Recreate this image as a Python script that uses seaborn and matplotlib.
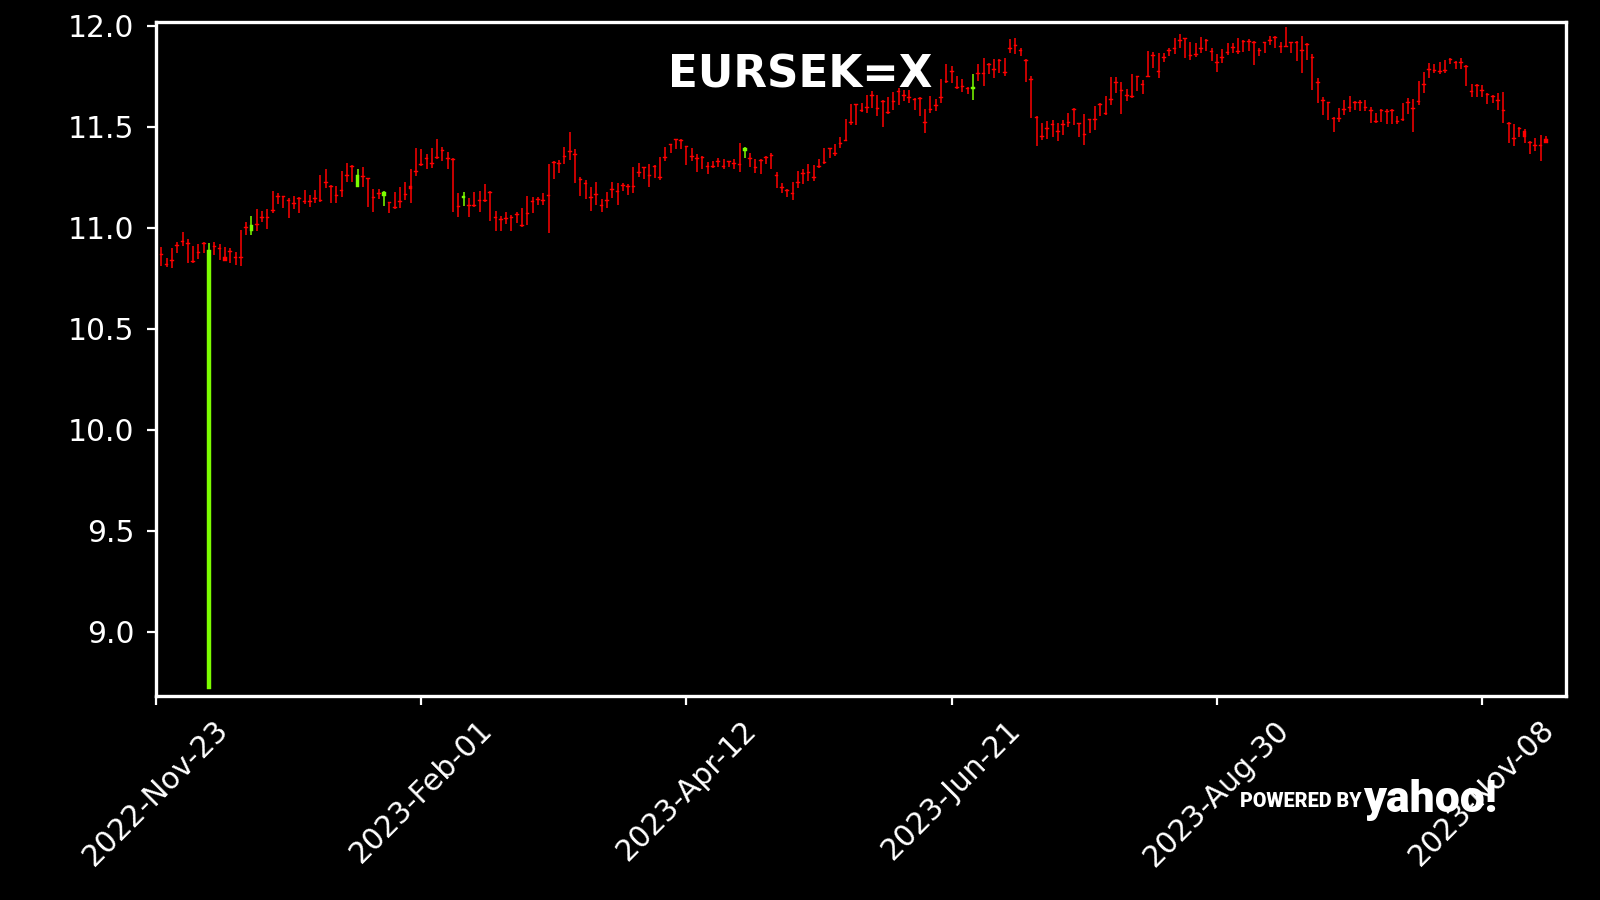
import numpy as np
import matplotlib
matplotlib.use("Agg")
import matplotlib.pyplot as plt
import seaborn as sns

TICKER = "EURSEK=X"
TICK_POS = [0, 50, 100, 150, 200, 250]
TICK_LABELS = ["2022-Nov-23", "2023-Feb-01", "2023-Apr-12",
               "2023-Jun-21", "2023-Aug-30", "2023-Nov-08"]

OPEN = [
    10.870, 10.821, 10.840, 10.915, 10.936, 10.925, 10.837, 10.878, 10.925, 8.716,
    10.911, 10.900, 10.857, 10.883, 10.857, 10.857, 11.002, 10.981, 11.019, 11.052,
    11.052, 11.088, 11.156, 11.156, 11.137, 11.123, 11.149, 11.134, 11.134, 11.146,
    11.139, 11.228, 11.205, 11.162, 11.187, 11.261, 11.304, 11.203, 11.255, 11.245,
    11.151, 11.171, 11.157, 11.125, 11.101, 11.130, 11.167, 11.206, 11.282, 11.315,
    11.345, 11.318, 11.348, 11.386, 11.343, 11.340, 11.106, 11.148, 11.112, 11.114,
    11.137, 11.137, 11.178, 11.051, 11.043, 11.048, 11.055, 11.068, 11.013, 11.071,
    11.134, 11.142, 11.137, 11.162, 11.324, 11.319, 11.353, 11.378, 11.365, 11.241,
    11.220, 11.150, 11.167, 11.112, 11.137, 11.192, 11.180, 11.211, 11.205, 11.205,
    11.274, 11.299, 11.261, 11.307, 11.249, 11.348, 11.414, 11.439, 11.436, 11.403,
    11.357, 11.343, 11.352, 11.307, 11.307, 11.332, 11.304, 11.328, 11.319, 11.315,
    11.381, 11.345, 11.299, 11.335, 11.352, 11.361, 11.261, 11.203, 11.187, 11.170,
    11.228, 11.271, 11.274, 11.249, 11.307, 11.327, 11.393, 11.368, 11.418, 11.436,
    11.521, 11.612, 11.584, 11.596, 11.657, 11.591, 11.629, 11.571, 11.629, 11.678,
    11.657, 11.645, 11.637, 11.642, 11.525, 11.588, 11.607, 11.645, 11.728, 11.777,
    11.698, 11.703, 11.691, 11.686, 11.764, 11.764, 11.810, 11.786, 11.832, 11.772,
    11.888, 11.904, 11.881, 11.832, 11.736, 11.546, 11.455, 11.492, 11.513, 11.480,
    11.513, 11.521, 11.588, 11.517, 11.464, 11.538, 11.538, 11.612, 11.566, 11.637,
    11.720, 11.682, 11.657, 11.654, 11.749, 11.711, 11.753, 11.855, 11.777, 11.843,
    11.881, 11.888, 11.929, 11.937, 11.855, 11.860, 11.888, 11.931, 11.873, 11.822,
    11.843, 11.868, 11.893, 11.873, 11.926, 11.926, 11.921, 11.880, 11.918, 11.931,
    11.942, 11.898, 11.901, 11.918, 11.921, 11.880, 11.909, 11.843, 11.723, 11.632,
    11.621, 11.541, 11.541, 11.588, 11.596, 11.621, 11.621, 11.596, 11.583, 11.526,
    11.584, 11.576, 11.583, 11.526, 11.538, 11.621, 11.592, 11.625, 11.711, 11.786,
    11.781, 11.777, 11.782, 11.835, 11.822, 11.819, 11.802, 11.675, 11.706, 11.682,
    11.662, 11.650, 11.632, 11.584, 11.518, 11.442, 11.492, 11.480, 11.426, 11.409,
    11.409, 11.437,
]
HIGH = [
    10.906, 10.852, 10.898, 10.931, 10.977, 10.943, 10.911, 10.920, 10.931, 10.926,
    10.931, 10.920, 10.906, 10.898, 10.877, 10.989, 11.030, 11.058, 11.091, 11.083,
    11.091, 11.182, 11.170, 11.157, 11.149, 11.157, 11.154, 11.187, 11.162, 11.187,
    11.260, 11.289, 11.212, 11.207, 11.281, 11.319, 11.311, 11.289, 11.302, 11.245,
    11.190, 11.190, 11.179, 11.129, 11.178, 11.203, 11.228, 11.290, 11.396, 11.388,
    11.363, 11.393, 11.437, 11.401, 11.376, 11.343, 11.170, 11.178, 11.145, 11.175,
    11.182, 11.215, 11.180, 11.084, 11.059, 11.079, 11.063, 11.079, 11.096, 11.158,
    11.154, 11.150, 11.170, 11.314, 11.332, 11.335, 11.401, 11.475, 11.388, 11.249,
    11.236, 11.200, 11.224, 11.142, 11.175, 11.228, 11.223, 11.223, 11.216, 11.299,
    11.322, 11.302, 11.314, 11.310, 11.352, 11.398, 11.416, 11.441, 11.437, 11.404,
    11.393, 11.363, 11.355, 11.323, 11.330, 11.347, 11.338, 11.330, 11.338, 11.421,
    11.401, 11.368, 11.338, 11.338, 11.355, 11.368, 11.274, 11.219, 11.190, 11.224,
    11.280, 11.289, 11.314, 11.310, 11.338, 11.396, 11.396, 11.413, 11.450, 11.536,
    11.611, 11.614, 11.616, 11.657, 11.678, 11.657, 11.632, 11.649, 11.673, 11.690,
    11.682, 11.682, 11.642, 11.649, 11.586, 11.652, 11.635, 11.734, 11.809, 11.800,
    11.752, 11.736, 11.695, 11.759, 11.809, 11.842, 11.817, 11.833, 11.834, 11.842,
    11.934, 11.941, 11.888, 11.836, 11.751, 11.554, 11.516, 11.530, 11.533, 11.520,
    11.533, 11.569, 11.591, 11.519, 11.561, 11.540, 11.602, 11.616, 11.652, 11.748,
    11.748, 11.723, 11.685, 11.759, 11.751, 11.731, 11.876, 11.871, 11.863, 11.866,
    11.888, 11.941, 11.957, 11.941, 11.921, 11.916, 11.946, 11.934, 11.891, 11.858,
    11.884, 11.916, 11.913, 11.937, 11.929, 11.932, 11.924, 11.891, 11.920, 11.950,
    11.950, 11.921, 11.992, 11.920, 11.926, 11.950, 11.912, 11.858, 11.743, 11.649,
    11.624, 11.550, 11.591, 11.632, 11.652, 11.627, 11.632, 11.632, 11.599, 11.569,
    11.586, 11.586, 11.586, 11.553, 11.616, 11.644, 11.637, 11.726, 11.769, 11.817,
    11.809, 11.822, 11.830, 11.838, 11.825, 11.838, 11.804, 11.710, 11.710, 11.706,
    11.665, 11.657, 11.665, 11.673, 11.525, 11.513, 11.497, 11.487, 11.428, 11.442,
    11.459, 11.455,
]
LOW = [
    10.811, 10.804, 10.799, 10.873, 10.910, 10.827, 10.827, 10.845, 10.873, 8.716,
    10.865, 10.840, 10.837, 10.824, 10.816, 10.812, 10.964, 10.964, 10.981, 11.030,
    10.994, 11.071, 11.116, 11.096, 11.047, 11.091, 11.071, 11.118, 11.101, 11.124,
    11.129, 11.195, 11.124, 11.124, 11.154, 11.228, 11.228, 11.203, 11.203, 11.101,
    11.075, 11.141, 11.108, 11.071, 11.092, 11.096, 11.137, 11.120, 11.256, 11.307,
    11.289, 11.294, 11.340, 11.332, 11.289, 11.079, 11.054, 11.109, 11.054, 11.104,
    11.079, 11.129, 11.033, 10.984, 10.984, 11.017, 10.984, 11.021, 11.002, 11.013,
    11.071, 11.112, 11.112, 10.972, 11.241, 11.272, 11.315, 11.335, 11.223, 11.157,
    11.142, 11.083, 11.112, 11.079, 11.099, 11.145, 11.112, 11.182, 11.162, 11.173,
    11.249, 11.239, 11.200, 11.244, 11.236, 11.330, 11.368, 11.388, 11.388, 11.310,
    11.330, 11.274, 11.289, 11.266, 11.294, 11.302, 11.290, 11.299, 11.289, 11.277,
    11.343, 11.299, 11.269, 11.266, 11.314, 11.289, 11.195, 11.170, 11.153, 11.137,
    11.195, 11.216, 11.231, 11.233, 11.294, 11.314, 11.343, 11.356, 11.396, 11.429,
    11.508, 11.508, 11.574, 11.566, 11.591, 11.553, 11.500, 11.561, 11.583, 11.607,
    11.627, 11.616, 11.583, 11.553, 11.470, 11.566, 11.579, 11.619, 11.715, 11.715,
    11.685, 11.673, 11.662, 11.632, 11.726, 11.701, 11.759, 11.739, 11.764, 11.751,
    11.863, 11.858, 11.850, 11.719, 11.541, 11.404, 11.434, 11.437, 11.450, 11.431,
    11.459, 11.497, 11.508, 11.447, 11.409, 11.470, 11.483, 11.553, 11.558, 11.607,
    11.668, 11.563, 11.627, 11.640, 11.677, 11.662, 11.744, 11.792, 11.743, 11.822,
    11.850, 11.860, 11.891, 11.842, 11.830, 11.847, 11.866, 11.875, 11.825, 11.772,
    11.814, 11.855, 11.863, 11.860, 11.871, 11.875, 11.805, 11.850, 11.863, 11.904,
    11.888, 11.863, 11.894, 11.863, 11.825, 11.767, 11.830, 11.682, 11.616, 11.558,
    11.533, 11.475, 11.525, 11.558, 11.574, 11.583, 11.578, 11.578, 11.516, 11.516,
    11.525, 11.512, 11.513, 11.513, 11.530, 11.563, 11.472, 11.607, 11.668, 11.739,
    11.764, 11.761, 11.767, 11.809, 11.784, 11.784, 11.701, 11.649, 11.649, 11.649,
    11.611, 11.616, 11.583, 11.516, 11.417, 11.404, 11.447, 11.421, 11.363, 11.380,
    11.330, 11.421,
]
CLOSE = [
    10.865, 10.816, 10.835, 10.910, 10.931, 10.920, 10.832, 10.873, 10.920, 10.890,
    10.906, 10.895, 10.837, 10.878, 10.852, 10.852, 10.997, 11.014, 11.014, 11.047,
    11.047, 11.083, 11.151, 11.151, 11.132, 11.118, 11.144, 11.129, 11.129, 11.141,
    11.134, 11.223, 11.200, 11.157, 11.182, 11.256, 11.299, 11.261, 11.250, 11.240,
    11.146, 11.166, 11.174, 11.120, 11.096, 11.125, 11.162, 11.191, 11.277, 11.310,
    11.340, 11.313, 11.343, 11.381, 11.338, 11.335, 11.101, 11.158, 11.107, 11.109,
    11.132, 11.132, 11.173, 11.046, 11.038, 11.043, 11.050, 11.063, 11.008, 11.066,
    11.129, 11.137, 11.132, 11.157, 11.319, 11.314, 11.348, 11.373, 11.360, 11.236,
    11.215, 11.145, 11.162, 11.107, 11.132, 11.187, 11.175, 11.206, 11.200, 11.200,
    11.269, 11.294, 11.256, 11.302, 11.244, 11.343, 11.409, 11.434, 11.431, 11.398,
    11.352, 11.338, 11.347, 11.302, 11.302, 11.327, 11.299, 11.323, 11.314, 11.310,
    11.393, 11.340, 11.294, 11.330, 11.347, 11.356, 11.256, 11.198, 11.182, 11.165,
    11.223, 11.266, 11.269, 11.244, 11.302, 11.322, 11.388, 11.363, 11.413, 11.431,
    11.516, 11.607, 11.579, 11.591, 11.652, 11.586, 11.624, 11.566, 11.624, 11.673,
    11.652, 11.640, 11.632, 11.637, 11.520, 11.583, 11.602, 11.640, 11.723, 11.772,
    11.693, 11.698, 11.686, 11.698, 11.759, 11.759, 11.805, 11.781, 11.827, 11.767,
    11.883, 11.899, 11.876, 11.827, 11.731, 11.541, 11.450, 11.487, 11.508, 11.475,
    11.508, 11.516, 11.583, 11.512, 11.459, 11.533, 11.533, 11.607, 11.561, 11.632,
    11.715, 11.677, 11.652, 11.649, 11.744, 11.706, 11.748, 11.850, 11.772, 11.838,
    11.876, 11.883, 11.924, 11.932, 11.850, 11.855, 11.883, 11.926, 11.868, 11.817,
    11.838, 11.863, 11.888, 11.868, 11.921, 11.921, 11.916, 11.875, 11.913, 11.926,
    11.937, 11.893, 11.896, 11.913, 11.916, 11.875, 11.904, 11.838, 11.718, 11.627,
    11.616, 11.536, 11.536, 11.583, 11.591, 11.616, 11.616, 11.591, 11.578, 11.521,
    11.579, 11.571, 11.578, 11.521, 11.533, 11.616, 11.587, 11.620, 11.706, 11.781,
    11.776, 11.772, 11.777, 11.830, 11.817, 11.814, 11.797, 11.670, 11.701, 11.677,
    11.657, 11.645, 11.627, 11.579, 11.513, 11.437, 11.487, 11.447, 11.421, 11.404,
    11.404, 11.421,
]

UP_COLOR = "#7cfc00"
DOWN_COLOR = "#ff0000"

sns.set_theme(style="dark", rc={
    "figure.facecolor": "black",
    "axes.facecolor": "black",
    "axes.edgecolor": "white",
    "axes.linewidth": 1.2,
    "xtick.color": "white",
    "ytick.color": "white",
    "xtick.bottom": True,
    "ytick.left": True,
    "text.color": "white",
    "axes.grid": False,
})
plt.rcParams["font.family"] = ["DejaVu Sans"]

o = np.array(OPEN)
h = np.array(HIGH)
l = np.array(LOW)
c = np.array(CLOSE)
x = np.arange(1, len(c) + 1)
colors = np.where(c > o, UP_COLOR, DOWN_COLOR)

fig = plt.figure(figsize=(8, 4.5), dpi=200)
ax = fig.add_axes([0.0975, 0.2267, 0.88125, 0.7489])

# wicks then bodies
ax.vlines(x, l, h, colors=colors, linewidth=0.55)
ax.bar(x, c - o, bottom=o, width=0.68, color=colors, edgecolor=colors, linewidth=0.15)

ax.set_xlim(0, 265.8)
ax.set_ylim(8.682, 12.018)
yt = [9.0, 9.5, 10.0, 10.5, 11.0, 11.5, 12.0]
ax.set_yticks(yt)
ax.set_yticklabels([f"{v:.1f}" for v in yt])
ax.set_xticks(TICK_POS)
ax.set_xticklabels(TICK_LABELS, rotation=45)
ax.tick_params(axis="both", labelsize=10.7, length=3.3, width=0.8, colors="white")
ax.tick_params(axis="y", pad=4.5)
for s in ax.spines.values():
    s.set_color("white")
    s.set_linewidth(1.2)

fig.text(0.5, 0.903, TICKER, ha="center", va="baseline", fontsize=15.7,
         fontweight="bold", color="white")

# yahoo watermark
fig.text(0.775, 0.103, "POWERED BY", ha="left", va="baseline", fontsize=7.1,
         fontweight="heavy", family=["Roboto", "DejaVu Sans"], color="white")
fig.text(0.852, 0.098, "yahoo!", ha="left", va="baseline", fontsize=16,
         fontweight="heavy", family=["Roboto", "DejaVu Sans"], color="white")

fig.savefig("out.png", dpi=200, facecolor="black")
